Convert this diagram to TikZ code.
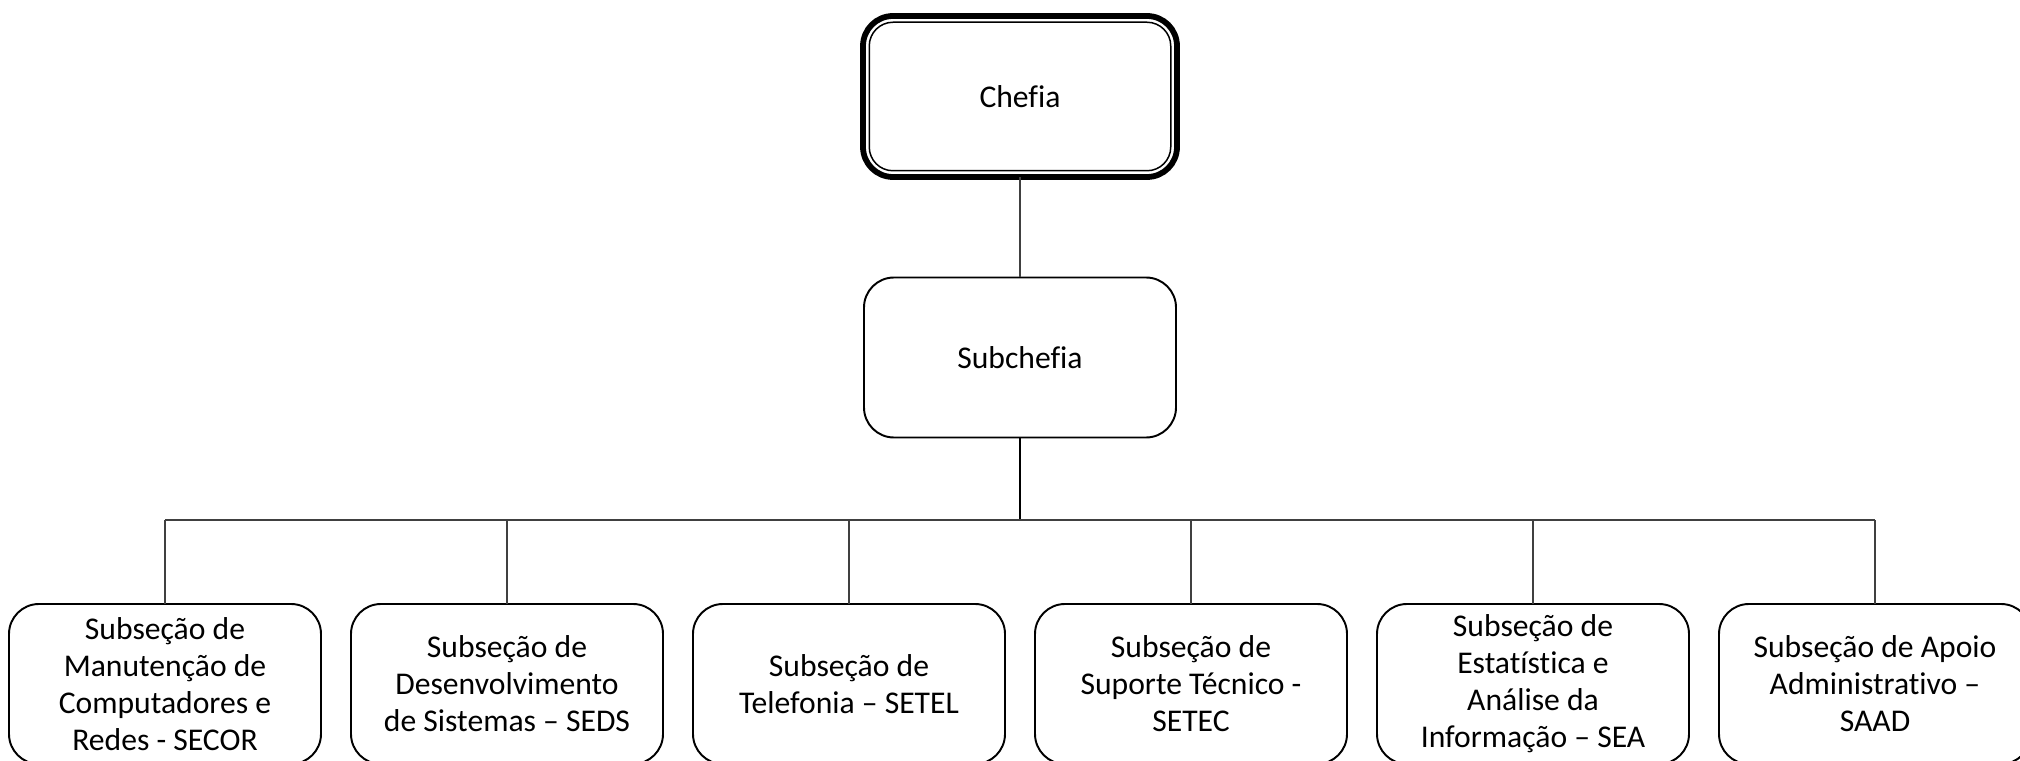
\documentclass[tikz,border=0pt]{standalone}
\usepackage{fontspec}
\setmainfont{Carlito}[Ligatures=NoCommon]
\begin{document}
\begin{tikzpicture}[
    caixa/.style={draw, line width=1.1pt, rounded corners=0.6cm, outer sep=0pt,
      minimum width=6.24cm, minimum height=3.2cm, align=center,
      font=\fontsize{18}{21}\selectfont},
    ligacao/.style={draw=black!75, line width=0.75pt}
  ]
  \useasboundingbox (0,0) rectangle (40.4,-15.22);
  % Chefia
  \node[caixa, line width=3.3pt, minimum width=6.28cm, minimum height=3.22cm] (chefia) at (20.4,-1.93) {Chefia};
  \draw[line width=0.85pt, rounded corners=0.475cm] ([shift={(0.125,-0.125)}]chefia.north west) rectangle ([shift={(-0.125,0.125)}]chefia.south east);
  % Subchefia
  \node[caixa] (subchefia) at (20.4,-7.15) {Subchefia};
  % Subseções
  \node[caixa] (secor) at (3.30,-13.68) {Subseção de\\Manutenção de\\Computadores e\\Redes - SECOR};
  \node[caixa] (seds) at (10.14,-13.68) {Subseção de\\Desenvolvimento\\de Sistemas – SEDS};
  \node[caixa] (setel) at (16.98,-13.68) {Subseção de\\Telefonia – SETEL};
  \node[caixa] (setec) at (23.82,-13.68) {Subseção de\\Suporte Técnico -\\SETEC};
  \node[caixa] (sea) at (30.66,-13.68) {Subseção de\\Estatística e\\Análise da\\Informação – SEA};
  \node[caixa] (saad) at (37.50,-13.68) {Subseção de Apoio\\Administrativo –\\SAAD};
  % Ligações
  \coordinate (barra) at (20.4,-10.4);
  \draw[ligacao] (chefia) -- (subchefia);
  \draw[line width=1.1pt] (subchefia) -- (barra);
  \draw[ligacao] (secor.north |- barra) -- (saad.north |- barra);
  \draw[ligacao] (secor) -- (secor.north |- barra);
  \draw[ligacao] (seds) -- (seds.north |- barra);
  \draw[ligacao] (setel) -- (setel.north |- barra);
  \draw[ligacao] (setec) -- (setec.north |- barra);
  \draw[ligacao] (sea) -- (sea.north |- barra);
  \draw[ligacao] (saad) -- (saad.north |- barra);
\end{tikzpicture}
\end{document}
